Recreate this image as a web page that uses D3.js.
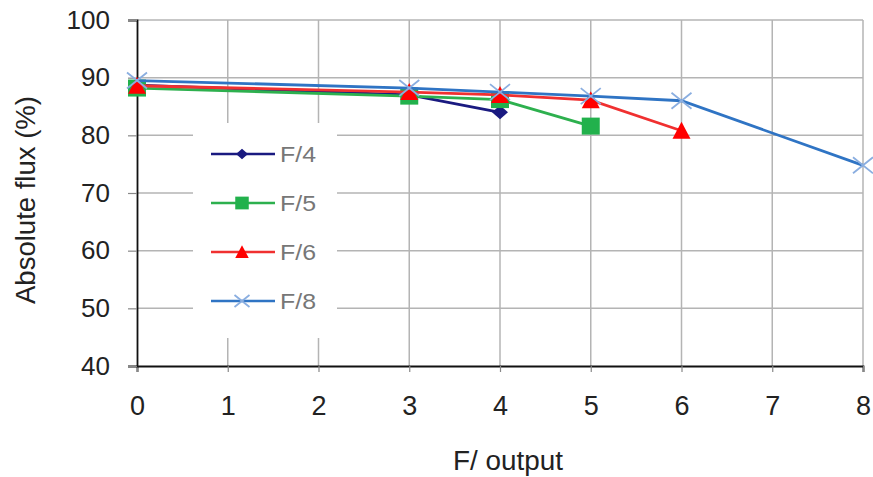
<!DOCTYPE html>
<html><head><meta charset="utf-8">
<script src="https://cdn.jsdelivr.net/npm/d3@7"></script>
<style>body{margin:0;background:#fff;} text{font-family:"Liberation Sans",Arial,sans-serif;}</style>
</head><body>
<svg id="c" width="873" height="477"></svg>
<script>
const seriesNames = ["F/4","F/5","F/6","F/8"];
const xF4 = [0,3,4];           const yF4 = [88.7,87.0,84.0];
const xF5 = [0,3,4,5];         const yF5 = [88.2,86.8,86.2,81.6];
const xF6 = [0,3,4,5,6];       const yF6 = [88.6,87.5,87.0,86.1,80.8];
const xF8 = [0,3,4,5,6,8];     const yF8 = [89.5,88.2,87.5,86.8,86.0,74.8];
const xTicks = [0,1,2,3,4,5,6,7,8];
const yTicks = [40,50,60,70,80,90,100];
const xTitle = "F/ output";
const yTitle = "Absolute flux (%)";

const series = [
  {name:seriesNames[0], xs:xF4, ys:yF4, color:"#1a1a80", mcolor:"#1a1a80", marker:"diamond"},
  {name:seriesNames[1], xs:xF5, ys:yF5, color:"#2db04e", mcolor:"#22b14c", marker:"square"},
  {name:seriesNames[2], xs:xF6, ys:yF6, color:"#f03030", mcolor:"#ff0000", marker:"triangle"},
  {name:seriesNames[3], xs:xF8, ys:yF8, color:"#2f74c4", mcolor:"#8aaee0", marker:"cross"}
];

const L=137, R=863, T=20, B=366;
const svg = d3.select("#c");
const x = d3.scaleLinear().domain([0,8]).range([L,R]);
const y = d3.scaleLinear().domain([40,100]).range([B,T]);

// grid
const g = svg.append("g");
g.selectAll(".vg").data(xTicks.slice(1)).join("line")
  .attr("x1",d=>x(d)).attr("x2",d=>x(d)).attr("y1",T).attr("y2",B)
  .attr("stroke","#b4b4b4").attr("stroke-width",1.5);
g.selectAll(".hg").data(yTicks.slice(1)).join("line")
  .attr("x1",L).attr("x2",R).attr("y1",d=>y(d)).attr("y2",d=>y(d))
  .attr("stroke","#b4b4b4").attr("stroke-width",1.5);

// axes
const xAxis = d3.axisBottom(x).tickValues(xTicks).tickSize(6).tickPadding(28).tickFormat(d3.format("d"));
const yAxis = d3.axisLeft(y).tickValues(yTicks).tickSize(9).tickPadding(18).tickFormat(d3.format("d"));
const gx = svg.append("g").attr("transform",`translate(0,${B})`).call(xAxis);
const gy = svg.append("g").attr("transform",`translate(${L},0)`).call(yAxis);
[gx,gy].forEach(a=>{
  a.select(".domain").attr("stroke","#111").attr("stroke-width",1.8);
  a.selectAll(".tick line").attr("stroke","#888").attr("stroke-width",1.2);
  a.selectAll(".tick text").attr("font-size",26).attr("fill","#222").attr("font-family","Liberation Sans, Arial, sans-serif");
});
gx.selectAll(".tick text").attr("font-size",27).attr("dy","0.55em");

// legend background
const lg = svg.append("g");
lg.append("rect").attr("x",193).attr("y",123).attr("width",144).attr("height",215).attr("fill","#fff");

// lines and markers
const line = d3.line().x(d=>x(d[0])).y(d=>y(d[1]));
function drawMarker(sel, type, color, cx, cy, k){
  if(type==="diamond"){
    sel.append("path").attr("d",`M${cx},${cy-7*k}L${cx+8*k},${cy}L${cx},${cy+7*k}L${cx-8*k},${cy}Z`).attr("fill",color);
  } else if(type==="square"){
    sel.append("rect").attr("x",cx-9*k).attr("y",cy-8.5*k).attr("width",18*k).attr("height",17*k).attr("fill",color);
  } else if(type==="triangle"){
    sel.append("path").attr("d",`M${cx},${cy-9*k}L${cx+9*k},${cy+8*k}L${cx-9*k},${cy+8*k}Z`).attr("fill",color);
  } else {
    sel.append("path").attr("d",`M${cx-10*k},${cy-8*k}L${cx+10*k},${cy+8*k}M${cx-10*k},${cy+8*k}L${cx+10*k},${cy-8*k}`)
      .attr("stroke",color).attr("stroke-width",1.8).attr("fill","none");
  }
}
series.forEach(s=>{
  const pts = s.xs.map((v,i)=>[v,s.ys[i]]);
  const sg = svg.append("g");
  sg.append("path").datum(pts).attr("d",line).attr("fill","none").attr("stroke",s.color).attr("stroke-width",2.8);
  pts.forEach(p=>drawMarker(sg,s.marker,s.mcolor,x(p[0]),y(p[1]),1));
});

// legend items
series.forEach((s,i)=>{
  const ly = 154 + i*49;
  lg.append("line").attr("x1",211).attr("x2",275).attr("y1",ly).attr("y2",ly).attr("stroke",s.color).attr("stroke-width",2.6);
  drawMarker(lg,s.marker,s.mcolor,242,ly,0.75);
  lg.append("text").attr("x",280).attr("y",ly+8).attr("font-size",22)
    .attr("textLength",36).attr("lengthAdjust","spacingAndGlyphs").attr("fill","#777").text(s.name);
});
svg.node().appendChild(lg.node());

// axis titles
svg.append("text").attr("x",508).attr("y",470).attr("text-anchor","middle").attr("font-size",27)
  .attr("textLength",110).attr("lengthAdjust","spacingAndGlyphs").attr("fill","#222").text(xTitle);
svg.append("text").attr("transform",`translate(35,200) rotate(-90)`).attr("text-anchor","middle").attr("font-size",27)
  .attr("textLength",208).attr("lengthAdjust","spacingAndGlyphs").attr("fill","#222").text(yTitle);
</script>
</body></html>
